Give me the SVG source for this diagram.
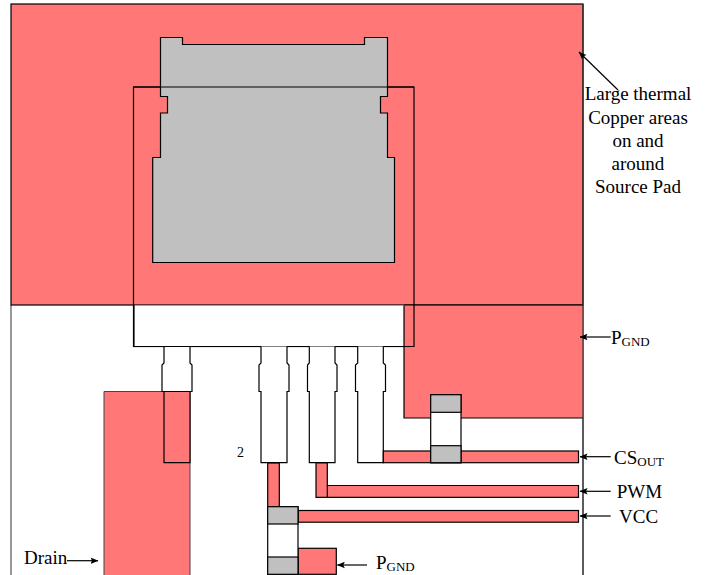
<svg xmlns="http://www.w3.org/2000/svg" width="708" height="575" viewBox="0 0 708 575">
<style>
.s{stroke:#000;stroke-width:1.2;stroke-linejoin:miter}
.r{fill:#ff7777}
.g{fill:#c0c0c0}
.w{fill:#fff}
.n{fill:none}
.c{stroke:#000;stroke-width:1.2;fill:none;marker-end:url(#a)}
text{font-family:"Liberation Serif","Times New Roman",serif;font-size:19px;fill:#000}
.m{text-anchor:middle}
.u{font-size:13px}
</style>
<defs><marker id="a" viewBox="0 0 8 8" refX="7.5" refY="4" markerWidth="8" markerHeight="8" markerUnits="userSpaceOnUse" orient="auto"><path d="M0 0.8L8 4L0 7.2L1.5 4Z" fill="#000"/></marker></defs>
<rect width="708" height="575" fill="#fff"/>
<g id="board"><path class="n" d="M11 305V575M583 305V575" stroke="#555" stroke-width="1.2"/></g>
<g id="source-copper"><rect class="r s" x="11" y="4" width="572" height="301"/></g>
<g id="package-body"><rect class="s" x="133.500" y="87" width="280.500" height="259.500" fill="none"/><rect class="w" x="134" y="305.600" width="279.500" height="40.400"/></g>
<g id="source-pad"><path class="g s" d="M160.500 37.500H182.500V44.500H364.500V37.500H387.500V96.500H380.500V113H387.500V157.500H394.500V262.500H152.700V157.500H160.500V113H167.500V96.500H160.500Z"/><path class="s" d="M133.500 87H414" fill="none"/></g>
<g id="drain-copper"><rect class="r" x="104" y="391.500" width="86" height="183.500"/><path class="n" d="M104 575V391.500H190V575" stroke="#444" stroke-width="1"/></g>
<g id="pgnd-copper"><path class="r" d="M404 305.600H583V418H404Z"/><path class="s n" d="M404 305.600V418H583"/><path class="n" d="M404 305H583" stroke="#000" stroke-width="1.200"/><path class="n s" d="M414 305V346.500H134V305"/></g>
<g id="lead-1"><path class="w s" d="M164 346.500V363L162 365V391.500H192V365L190 363V346.500Z"/><path class="r s" d="M164 391.500V462.700H190V391.500Z"/></g>
<g id="lead-2"><path class="w s" d="M261 346.500V363L259 365V391.500H261V462.700H287V391.500H289V365L287 363V346.500"/></g>
<g id="lead-3"><path class="w s" d="M309.300 346.500V363L307.500 365V391.500H309.300V462.700H335V391.500H337V365L335 363V346.500"/></g>
<g id="lead-4"><path class="w s" d="M357.700 346.500V363L355.500 365V391.500H357.700V462.700H383.300V391.500H385.500V365L383.300 363V346.500"/></g>
<g id="cs-trace"><rect class="r s" x="383.300" y="451" width="195.200" height="11.700"/></g>
<g id="pwm-trace"><path class="r s" d="M316 463H327.300V485.500H578.500V497.300H316Z"/><path class="s n" d="M327.300 485.500V497.300"/></g>
<g id="vcc-trace"><rect class="r s" x="267.700" y="463" width="11.600" height="44"/><rect class="r s" x="298" y="510.500" width="280.500" height="11.700"/></g>
<g id="pgnd-pad"><rect class="r s" x="298" y="548.300" width="38.300" height="26"/></g>
<g id="cap-top"><rect class="w s" x="430.700" y="394.700" width="30.300" height="68"/><rect class="g s" x="430.700" y="394.700" width="30.300" height="17.600"/><rect class="g s" x="430.700" y="445.700" width="30.300" height="17"/></g>
<g id="cap-bottom"><rect class="w s" x="267.700" y="506.700" width="30.300" height="67.600"/><rect class="g s" x="267.700" y="506.700" width="30.300" height="17.300"/><rect class="g s" x="267.700" y="557" width="30.300" height="17.300"/></g>
<g id="connectors">
<path class="n" d="M583 4V575" stroke="#333" stroke-width="1.200"/>
<path class="c" d="M618 90L579 52"/>
<path class="c" d="M610.700 337H580"/>
<path class="c" d="M610.700 456.700H580"/>
<path class="c" d="M610.700 491.300H580"/>
<path class="c" d="M610.700 516H580"/>
<path class="c" d="M367 565H337.300"/>
<path class="c" d="M67 560.700H98"/>
</g>
<g id="labels">
<text class="m" x="638" y="100">Large thermal</text>
<text class="m" x="638" y="124">Copper areas</text>
<text class="m" x="638" y="147">on and</text>
<text class="m" x="638" y="170">around</text>
<text class="m" x="638" y="193">Source Pad</text>
<text x="611" y="344">P<tspan class="u" dy="2">GND</tspan></text>
<text x="614" y="464">CS<tspan class="u" dy="2">OUT</tspan></text>
<text x="616.700" y="498">PWM</text>
<text x="619" y="523">VCC</text>
<text x="376" y="569">P<tspan class="u" dy="2">GND</tspan></text>
<text x="24" y="564">Drain</text>
<text x="237" y="456.500" style="font-size:14px">2</text>
</g>
</svg>
